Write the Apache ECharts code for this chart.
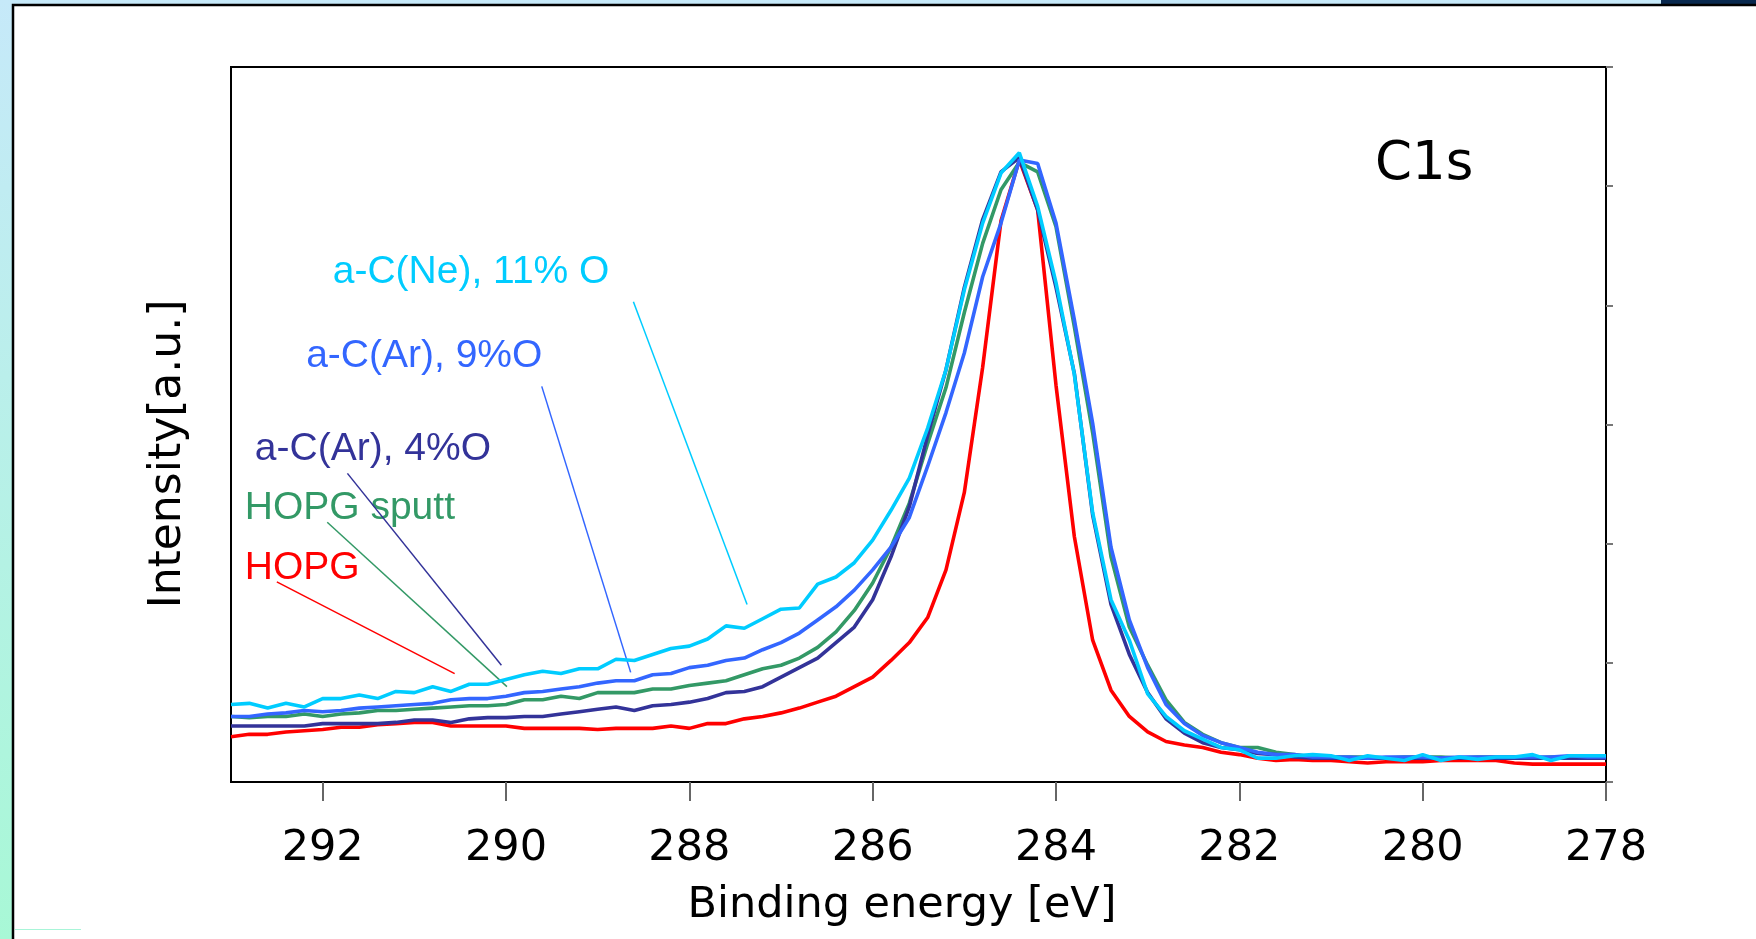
<!DOCTYPE html>
<html><head><meta charset="utf-8">
<script src="https://cdn.jsdelivr.net/npm/echarts@6/dist/echarts.min.js"></script>
<style>html,body{margin:0;padding:0;background:#fff;} #c{width:1756px;height:939px;}</style>
</head><body><div id="c"></div><script>
// Binding energy grid (eV)
const energy = [293.0,292.8,292.6,292.4,292.2,292.0,291.8,291.6,291.4,291.2,
291.0,290.8,290.6,290.4,290.2,290.0,289.8,289.6,289.4,289.2,
289.0,288.8,288.6,288.4,288.2,288.0,287.8,287.6,287.4,287.2,
287.0,286.8,286.6,286.4,286.2,286.0,285.8,285.6,285.4,285.2,
285.0,284.8,284.6,284.4,284.2,284.0,283.8,283.6,283.4,283.2,
283.0,282.8,282.6,282.4,282.2,282.0,281.8,281.6,281.4,281.2,
281.0,280.8,280.6,280.4,280.2,280.0,279.8,279.6,279.4,279.2,
279.0,278.8,278.6,278.4,278.2,278.0];

const hopg = [0.38,0.40,0.40,0.42,0.43,0.44,0.46,0.46,0.48,0.49,
0.50,0.50,0.47,0.47,0.47,0.47,0.45,0.45,0.45,0.45,
0.44,0.45,0.45,0.45,0.47,0.45,0.49,0.49,0.53,0.55,
0.58,0.62,0.67,0.72,0.80,0.88,1.02,1.17,1.38,1.78,
2.43,3.48,4.71,5.22,4.80,3.33,2.06,1.19,0.77,0.55,
0.42,0.34,0.31,0.29,0.25,0.23,0.20,0.18,0.19,0.18,
0.18,0.17,0.16,0.17,0.17,0.17,0.18,0.18,0.18,0.18,
0.16,0.15,0.15,0.15,0.15,0.15];

const hopgSputt = [0.55,0.54,0.55,0.55,0.57,0.55,0.57,0.58,0.60,0.60,
0.61,0.62,0.63,0.64,0.64,0.65,0.69,0.69,0.72,0.70,
0.75,0.75,0.75,0.78,0.78,0.81,0.83,0.85,0.90,0.95,
0.98,1.04,1.13,1.26,1.44,1.67,1.97,2.34,2.84,3.31,
3.94,4.52,4.97,5.20,5.12,4.66,3.82,2.93,1.89,1.30,
0.98,0.69,0.50,0.40,0.33,0.29,0.29,0.25,0.23,0.21,
0.21,0.21,0.21,0.20,0.21,0.21,0.21,0.20,0.21,0.21,
0.21,0.20,0.21,0.21,0.21,0.21];

const acAr4 = [0.47,0.47,0.47,0.47,0.47,0.49,0.49,0.49,0.49,0.50,
0.52,0.52,0.50,0.53,0.54,0.54,0.55,0.55,0.57,0.59,
0.61,0.63,0.60,0.64,0.65,0.67,0.70,0.75,0.76,0.80,
0.88,0.96,1.04,1.17,1.30,1.53,1.89,2.31,2.91,3.46,
4.15,4.72,5.12,5.24,4.80,4.15,3.43,2.24,1.49,1.07,
0.75,0.53,0.41,0.33,0.29,0.27,0.24,0.23,0.21,0.20,
0.20,0.20,0.20,0.20,0.20,0.20,0.20,0.20,0.20,0.20,
0.20,0.20,0.20,0.20,0.20,0.20];

const acAr9 = [0.55,0.55,0.57,0.58,0.60,0.59,0.60,0.62,0.63,0.64,
0.65,0.66,0.69,0.70,0.70,0.72,0.75,0.76,0.78,0.80,
0.83,0.85,0.85,0.90,0.91,0.96,0.98,1.02,1.04,1.11,
1.17,1.25,1.36,1.47,1.61,1.78,1.97,2.22,2.65,3.10,
3.60,4.24,4.69,5.22,5.19,4.69,3.88,3.01,1.97,1.36,
0.96,0.65,0.49,0.39,0.33,0.29,0.25,0.23,0.23,0.21,
0.21,0.21,0.20,0.21,0.21,0.21,0.20,0.21,0.21,0.21,
0.21,0.21,0.21,0.22,0.21,0.21];

const acNe11 = [0.65,0.66,0.62,0.66,0.63,0.70,0.70,0.73,0.70,0.76,
0.75,0.80,0.76,0.82,0.82,0.86,0.90,0.93,0.91,0.95,
0.95,1.03,1.02,1.07,1.12,1.14,1.20,1.31,1.29,1.37,
1.45,1.46,1.66,1.72,1.84,2.03,2.28,2.55,2.97,3.46,
4.13,4.69,5.11,5.28,4.83,4.19,3.42,2.26,1.53,1.19,
0.74,0.55,0.43,0.36,0.29,0.27,0.20,0.20,0.22,0.23,
0.22,0.18,0.22,0.20,0.18,0.23,0.18,0.21,0.19,0.21,
0.21,0.23,0.18,0.22,0.22,0.22];

const xTicks = [278,280,282,284,286,288,290,292];
const seriesNames = ['HOPG','HOPG sputt','a-C(Ar), 4%O','a-C(Ar), 9%O','a-C(Ne), 11% O'];
const seriesValues = [hopg, hopgSputt, acAr4, acAr9, acNe11];
const seriesColors = ['#ff0000','#339966','#333399','#3366ff','#00ccff'];
// label anchor (left, middle) in data coords [eV, intensity]
const labelAnchors = [[292.85,1.79],[292.85,2.30],[292.74,2.79],[292.18,3.57],[291.89,4.28]];
// leader lines in data coords
const leaderLines = [
  [[292.50,1.68],[290.56,0.91]],
  [[291.95,2.18],[289.99,0.80]],
  [[291.73,2.59],[290.05,0.98]],
  [[289.61,3.32],[288.64,0.92]],
  [[288.61,4.03],[287.37,1.49]]
];

const chart = echarts.init(document.getElementById('c'), null, {renderer:'canvas'});

const series = seriesNames.map((name, i) => ({
  name: name,
  type: 'line',
  showSymbol: false,
  symbol: 'none',
  data: energy.map((e, j) => [e, seriesValues[i][j]]),
  lineStyle: {color: seriesColors[i], width: 3.6},
  itemStyle: {color: seriesColors[i]},
  z: 2 + i,
  markLine: {
    silent: true,
    symbol: ['none','none'],
    label: {show: false},
    lineStyle: {color: seriesColors[i], width: 1.5, type: 'solid'},
    data: [[{coord: leaderLines[i][0]}, {coord: leaderLines[i][1]}]]
  }
}));

const bgGraphics = [
  {type:'rect', z:-100, silent:true, shape:{x:0,y:0,width:1756,height:939},
   style:{fill:{type:'linear',x:0,y:0,x2:0,y2:1,colorStops:[{offset:0,color:'#c6e9f9'},{offset:1,color:'#a8f8d6'}]}}},
  {type:'rect', z:-99, silent:true, shape:{x:1661,y:0,width:95,height:5}, style:{fill:'#08284e'}},
  {type:'rect', z:-98, silent:true, shape:{x:13,y:5,width:1800,height:1000}, style:{fill:'#ffffff', stroke:'#000000', lineWidth:2.5}},
  {type:'line', z:-97, silent:true, shape:{x1:15,y1:929.5,x2:81,y2:929.5}, style:{stroke:'#a8f5d8', lineWidth:1}},
  {type:'text', z:10, silent:true, x:902, y:906, style:{text:'Binding energy [eV]', font:'43px "DejaVu Sans"', fill:'#000', align:'center', verticalAlign:'middle'}},
  {type:'text', z:10, silent:true, x:169, y:454, rotation:Math.PI/2, style:{text:'Intensity[a.u.]', font:'44px "DejaVu Sans"', fill:'#000', align:'center', verticalAlign:'middle'}},
  {type:'text', z:10, silent:true, x:1375, y:165, style:{text:'C1s', font:'53px "DejaVu Sans"', fill:'#000', align:'left', verticalAlign:'middle'}}
];

chart.setOption({
  animation: false,
  backgroundColor: 'transparent',
  grid: {left: 231, top: 67, width: 1375, height: 715, show: true, borderColor: '#000', borderWidth: 2, backgroundColor: 'transparent', containLabel: false},
  xAxis: {
    type: 'value', min: 278, max: 293, interval: 2, inverse: true,
    axisLine: {show: true, onZero: false, lineStyle: {color: '#000', width: 2}},
    axisTick: {show: true, inside: false, length: 19, customValues: xTicks, lineStyle: {color: '#666', width: 2}},
    axisLabel: {show: true, margin: 45, fontSize: 43, fontFamily: 'DejaVu Sans', color: '#000', customValues: xTicks},
    splitLine: {show: false}
  },
  yAxis: {
    type: 'value', min: 0, max: 6, interval: 1, position: 'right',
    axisLine: {show: true, lineStyle: {color: '#000', width: 2}},
    axisTick: {show: true, inside: false, length: 7, lineStyle: {color: '#777', width: 2}},
    axisLabel: {show: false},
    splitLine: {show: false}
  },
  series: series,
  graphic: bgGraphics
});

const labelGraphics = seriesNames.map((name, i) => {
  const p = chart.convertToPixel({xAxisIndex:0, yAxisIndex:0}, labelAnchors[i]);
  return {type:'text', z:1, silent:true, x:p[0], y:p[1],
    style:{text:name, font:'39px "Liberation Sans"', fill:seriesColors[i], align:'left', verticalAlign:'middle'}};
});
chart.setOption({graphic: bgGraphics.concat(labelGraphics)});
</script></body></html>
